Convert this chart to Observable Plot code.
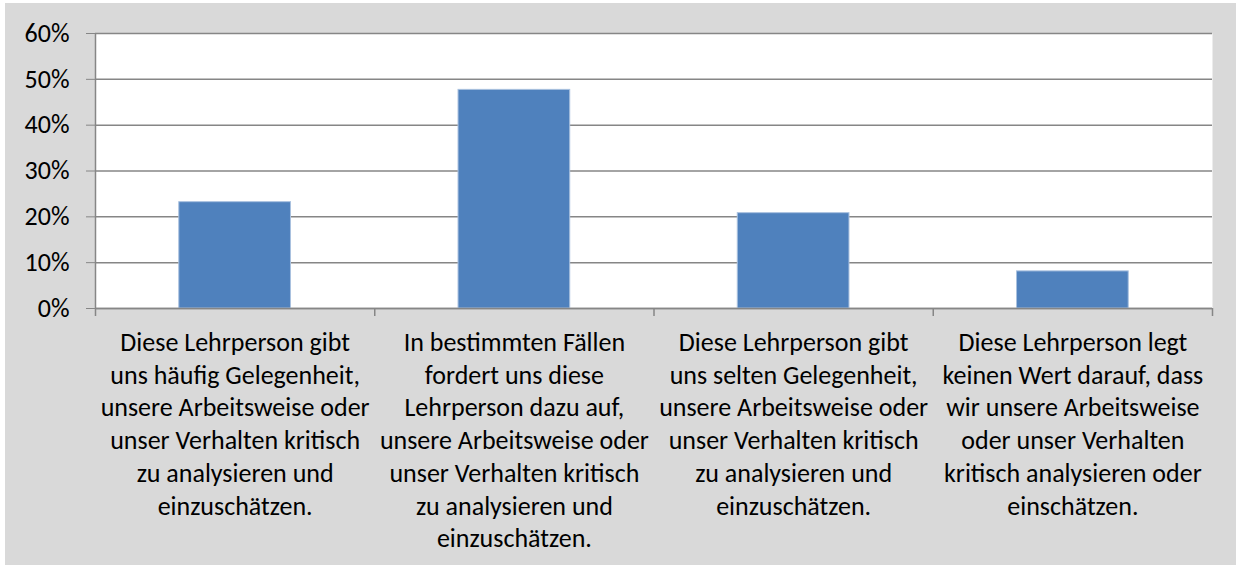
<!DOCTYPE html>
<html>
<head>
<meta charset="utf-8">
<script src="https://cdn.jsdelivr.net/npm/d3@7"></script>
<script src="https://cdn.jsdelivr.net/npm/@observablehq/plot@0.6"></script>
<style>
  html, body { margin: 0; padding: 0; background: #ffffff; }
  #chart { position: absolute; left: 5px; top: 3px; }
</style>
</head>
<body>
<div id="chart"></div>
<script>
const categories = [
  "Diese Lehrperson gibt\nuns häufig Gelegenheit,\nunsere Arbeitsweise oder\nunser Verhalten kritisch\nzu analysieren und\neinzuschätzen.",
  "In bestimmten Fällen\nfordert uns diese\nLehrperson dazu auf,\nunsere Arbeitsweise oder\nunser Verhalten kritisch\nzu analysieren und\neinzuschätzen.",
  "Diese Lehrperson gibt\nuns selten Gelegenheit,\nunsere Arbeitsweise oder\nunser Verhalten kritisch\nzu analysieren und\neinzuschätzen.",
  "Diese Lehrperson legt\nkeinen Wert darauf, dass\nwir unsere Arbeitsweise\noder unser Verhalten\nkritisch analysieren oder\neinschätzen."
];
const values = [0.232, 0.477, 0.208, 0.081];
const yTicks = [0, 0.1, 0.2, 0.3, 0.4, 0.5, 0.6];

const rows = categories.map((label, i) => ({i, label, value: values[i]}));
const positions = categories.map((_, i) => i);
const boundaries = [-0.5, ...positions.map(i => i + 0.5)];

const fontFamily = "Carlito, Lato, 'Open Sans', sans-serif";
const gridColor = "#868686";

const chart = Plot.plot({
  width: 1231,
  height: 562,
  marginLeft: 90,
  marginRight: 24,
  marginTop: 30,
  marginBottom: 257,
  style: {background: "#d9d9d9", fontFamily, fontSize: "26px", color: "#000"},
  x: {domain: [-0.5, categories.length - 0.5], axis: null, label: null},
  y: {domain: [0, 0.6], axis: null, label: null},
  marks: [
    Plot.frame({fill: "white", stroke: null}),
    Plot.gridY(yTicks, {stroke: gridColor, strokeOpacity: 1, strokeWidth: 1.5}),
    Plot.rectY(rows, {x1: d => d.i - 0.2, x2: d => d.i + 0.2, y: "value", fill: "#4f81bd", stroke: "#a9c1df", strokeWidth: 1}),
    Plot.ruleX([-0.5], {stroke: gridColor, strokeWidth: 1.5}),
    Plot.ruleY([0], {stroke: gridColor, strokeWidth: 1.5}),
    Plot.axisY(yTicks, {label: null, tickFormat: d3.format(".0%"), tickSize: 9, tickPadding: 17, stroke: gridColor, strokeOpacity: 1, fontSize: 26, fill: "#000"}),
    Plot.axisX(boundaries, {label: null, tickFormat: () => "", tickSize: 8, stroke: gridColor, strokeOpacity: 1, strokeWidth: 1.5}),
    Plot.axisX(positions, {label: null, tickFormat: i => categories[i], tickSize: 0, tickPadding: 19, lineHeight: 1.26, fontSize: 26, fill: "#000"})
  ]
});
document.getElementById("chart").appendChild(chart);
</script>
</body>
</html>
